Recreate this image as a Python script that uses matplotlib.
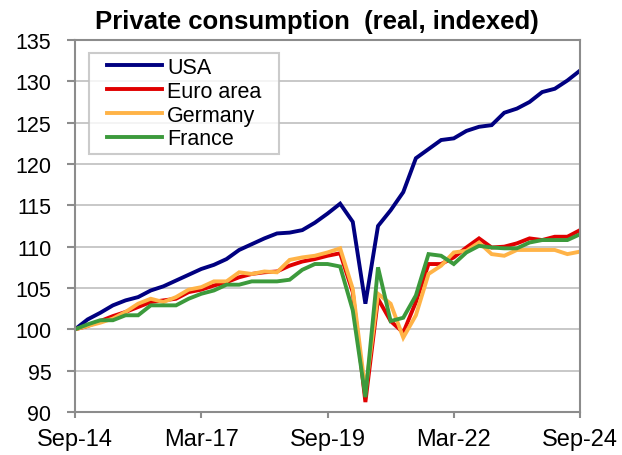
import numpy as np
import pandas as pd
import matplotlib
matplotlib.use("Agg")
import matplotlib.pyplot as plt

plt.rcParams['font.family'] = ['Liberation Sans', 'DejaVu Sans']

# quarterly index, Sep-14 = 100
quarters = pd.date_range("2014-09-30", "2024-09-30", freq="QE")

usa = [100.0, 101.2, 102.0, 102.9, 103.5, 103.9, 104.7, 105.2, 105.9, 106.6,
       107.3, 107.8, 108.5, 109.6, 110.3, 111.0, 111.6, 111.7, 112.0, 112.9,
       114.0, 115.2, 113.0, 103.1, 112.5, 114.4, 116.6, 120.7, 121.8, 122.9,
       123.1, 124.0, 124.5, 124.7, 126.2, 126.7, 127.5, 128.7, 129.1, 130.1,
       131.3]
euro_area = [100.0, 100.4, 101.0, 101.6, 102.1, 102.7, 103.3, 103.5, 103.7, 104.5,
             104.8, 105.3, 105.7, 106.3, 106.7, 106.9, 107.0, 107.7, 108.2, 108.5,
             108.9, 109.2, 104.5, 91.2, 103.7, 101.0, 99.6, 103.3, 107.9, 107.9,
             108.7, 109.9, 111.0, 109.9, 110.0, 110.4, 111.0, 110.8, 111.2, 111.2,
             112.0]
germany = [100.0, 100.4, 100.8, 101.3, 102.1, 103.1, 103.7, 103.3, 103.9, 104.8,
           105.1, 105.8, 105.8, 106.9, 106.7, 107.0, 106.9, 108.4, 108.7, 108.9,
           109.3, 109.8, 104.9, 92.5, 104.3, 103.1, 99.0, 101.7, 106.7, 107.7,
           109.3, 109.5, 110.5, 109.1, 108.9, 109.6, 109.6, 109.6, 109.6, 109.1,
           109.4]
france = [100.0, 100.6, 101.1, 101.1, 101.7, 101.7, 102.9, 102.9, 102.9, 103.7,
          104.3, 104.7, 105.4, 105.4, 105.8, 105.8, 105.8, 106.0, 107.2, 107.9,
          107.9, 107.6, 102.3, 91.8, 107.5, 101.0, 101.4, 104.1, 109.1, 108.9,
          107.9, 109.3, 110.1, 109.9, 109.8, 109.8, 110.5, 110.8, 110.8, 110.8,
          111.5]

series = [("USA", usa, "#000080"),
          ("Euro area", euro_area, "#E00000"),
          ("Germany", germany, "#FFB347"),
          ("France", france, "#3C9A3C")]

fig = plt.figure(figsize=(6.22, 4.56), dpi=100)
ax = fig.add_axes([0.1206, 0.0943, 0.8119, 0.8158])

x = np.arange(len(quarters))
for name, vals, col in series:
    ax.plot(x, vals, color=col, lw=2.8, label=name, solid_joinstyle="miter")

ax.set_xlim(0, len(quarters) - 1)
ax.set_ylim(90, 135)
ax.set_yticks(np.arange(90, 136, 5))
tick_pos = x[::10]
ax.set_xticks(tick_pos)
ax.set_xticklabels([quarters[i].strftime("%b-%y") for i in tick_pos])

ax.grid(axis="y", color="#BFBFBF", lw=1.2)
ax.set_axisbelow(True)
for s in ax.spines.values():
    s.set_color("#8C8C8C")
    s.set_linewidth(1.5)
ax.tick_params(axis="both", colors="#8C8C8C", labelcolor="black",
               width=1.5, direction="out")
ax.tick_params(axis="y", labelsize=15.5, length=6, pad=11)
ax.tick_params(axis="x", labelsize=17, length=4.5, pad=7)

leg = ax.legend(loc="upper left", bbox_to_anchor=(0.0545, 0.966), fontsize=15.5,
                frameon=True, fancybox=False, handlelength=2.55, handletextpad=0.25,
                borderpad=0.2, labelspacing=0.13, borderaxespad=0)
frame = leg.get_frame()
frame.set_edgecolor("#BFBFBF")
frame.set_linewidth(1.5)
# widen the frame sideways only
frame.set_boxstyle("square", pad=0.63)
frame.set_mutation_aspect(0.001)

fig.text(0.51, 0.951, "Private consumption  (real, indexed)", ha="center", va="center",
         fontsize=18.5, fontweight="bold")

fig.savefig("out.png", dpi=100)
